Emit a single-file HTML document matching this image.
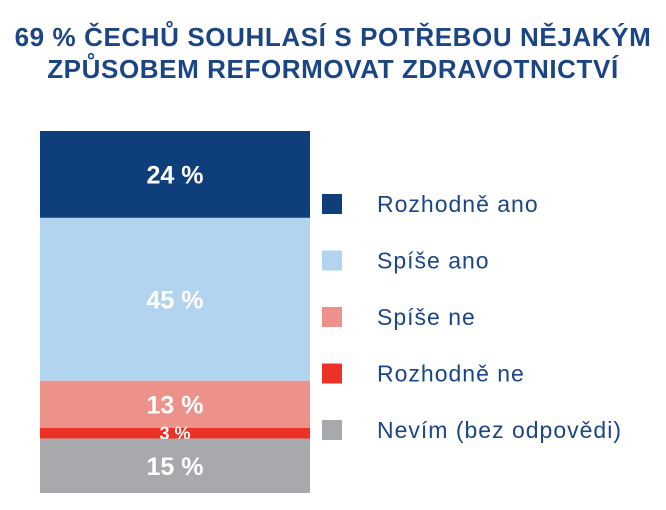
<!DOCTYPE html>
<html><head><meta charset="utf-8"><style>
body{margin:0;background:#fff;width:666px;height:505px;overflow:hidden;font-family:"Liberation Sans",sans-serif}
</style></head><body>
<svg width="666" height="505">
<text x="333" y="46" text-anchor="middle" font-size="26" letter-spacing="0.6" font-weight="bold" fill="#1b4585">69 % ČECHŮ SOUHLASÍ S POTŘEBOU NĚJAKÝM</text>
<text x="333" y="78" text-anchor="middle" font-size="26" letter-spacing="0.6" font-weight="bold" fill="#1b4585">ZPŮSOBEM REFORMOVAT ZDRAVOTNICTVÍ</text>
<g id="bars"></g><g id="legend"></g>
</svg>
<script>
const categories=["Rozhodně ano","Spíše ano","Spíše ne","Rozhodně ne","Nevím (bez odpovědi)"];
const values=[24,45,13,3,15];
const labels=["24 %","45 %","13 %","3 %","15 %"];
const colors=["#0e3f7b","#b3d4ef","#ed928a","#ec3226","#a8a9ac"];
const ns="http://www.w3.org/2000/svg";
const top0=131,bottom0=493,x0=40,w=270;
const total=values.reduce((a,b)=>a+b,0);
const y=v=>v/total*(bottom0-top0);
const bars=document.getElementById('bars'),leg=document.getElementById('legend');
let cum=0;
values.forEach((v,i)=>{
 const r=document.createElementNS(ns,'rect');
 r.setAttribute('x',x0);r.setAttribute('y',top0+y(cum));r.setAttribute('width',w);r.setAttribute('height',y(v));r.setAttribute('fill',colors[i]);
 
 
 bars.appendChild(r);
 const t=document.createElementNS(ns,'text');
 const small=y(v)<20;
 t.setAttribute('x',x0+w/2);t.setAttribute('y',top0+y(cum+v/2)+(small?6:9));
 t.setAttribute('text-anchor','middle');t.setAttribute('fill','#fff');t.setAttribute('font-weight','bold');t.setAttribute('font-size',small?18:25);
 t.textContent=labels[i];
 
 
 bars.appendChild(t);
 cum+=v;
 const ly=204+i*56.5;
 const s=document.createElementNS(ns,'rect');
 s.setAttribute('x',322);s.setAttribute('y',ly-10);s.setAttribute('width',20);s.setAttribute('height',20);s.setAttribute('fill',colors[i]);
 
 
 leg.appendChild(s);
 const lt=document.createElementNS(ns,'text');
 lt.setAttribute('x',377);lt.setAttribute('y',ly+8);lt.setAttribute('font-size',23);lt.setAttribute('letter-spacing','1');lt.setAttribute('fill','#1b4585');
 lt.textContent=categories[i];
 
 
 leg.appendChild(lt);
});
</script>
</body></html>
